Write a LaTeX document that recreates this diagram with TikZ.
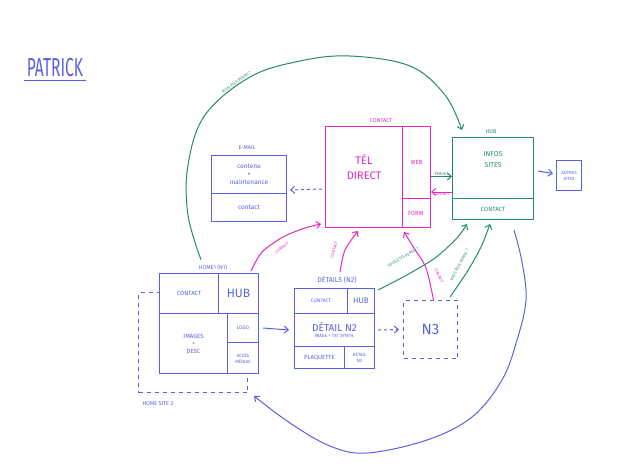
\documentclass[tikz,border=0pt]{standalone}
\usepackage{fontspec}
\setmainfont{Fira Sans}
\usetikzlibrary{positioning,arrows.meta}
\definecolor{Ink}{RGB}{88, 98, 222}
\definecolor{Rose}{RGB}{226, 40, 192}
\definecolor{Teal}{RGB}{38, 138, 108}

\begin{document}
\begin{tikzpicture}[x=1pt,y=-1pt,line width=1pt,
  cell/.style={draw,inner sep=0pt,anchor=north west,align=center,font=\fontsize{6}{7.5}\selectfont},
  lbl/.style={inner sep=1pt,font=\fontsize{5.5}{6}\selectfont},
  tiny/.style={inner sep=0.5pt,font=\fontsize{4}{4.5}\selectfont},
  link/.style={-{Straight Barb[length=4pt,width=7pt]}},
  dashlink/.style={link,dash pattern=on 3pt off 3pt}]
        \useasboundingbox (0,0) rectangle (620,472);

        % title
        \node[Ink,inner sep=2pt,font=\fontsize{26}{26}\selectfont] (title) at (55,68) {\scalebox{0.6}[1]{PATRICK}};
        \draw[Ink,line width=1.3pt] ([yshift=-1pt]title.south west) -- ([yshift=-1pt]title.south east);

        % e-mail
        \node[lbl,Ink] (maillbl) at (247,148) {E-MAIL};
        \node[cell,Ink,minimum width=75,minimum height=38,font=\fontsize{6.5}{8}\selectfont] (mailcontent) at (211,155) {contenu\\+\\maintenance};
        \node[cell,Ink,minimum width=75,minimum height=28,font=\fontsize{6.5}{8}\selectfont] (mailcontact) at (211,193) {contact};

        % contact
        \node[lbl,Rose] (contactlbl) at (381,121) {CONTACT};
        \node[cell,Rose,minimum width=77,minimum height=101,font=\fontsize{11}{15}\selectfont] (tel) at (325,126) {TÉL\\DIRECT\\[6pt]};
        \node[cell,Rose,minimum width=28,minimum height=72] (web) at (402,126) {WEB};
        \node[cell,Rose,minimum width=28,minimum height=29] (form) at (402,198) {FORM.};

        % hub
        \node[lbl,Teal] (hublbl) at (491,132) {HUB};
        \node[cell,Teal,minimum width=81,minimum height=61,font=\fontsize{7}{11}\selectfont] (hubinfos) at (452,137) {INFOS\\SITES\\[6pt]};
        \node[cell,Teal,minimum width=81,minimum height=21] (hubcontact) at (452,198) {CONTACT};
        \node[cell,Ink,minimum width=25,minimum height=30,font=\fontsize{4.5}{6}\selectfont] (autres) at (556,160) {AUTRES\\SITES};

        % home
        \node[cell,Ink,dash pattern=on 4pt off 4pt,minimum width=109,minimum height=100] (home2) at (138,292) {};
        \node[lbl,Ink,anchor=north west] (home2lbl) at ([xshift=3pt,yshift=-7pt]home2.south west) {HOME SITE 2};
        \node[lbl,Ink] (home1lbl) at (213,268) {HOME1 (N1)};
        \node[cell,Ink,fill=white,minimum width=59,minimum height=40] (h1contact) at (159,273) {CONTACT};
        \node[cell,Ink,fill=white,minimum width=40,minimum height=40,font=\fontsize{12}{12}\selectfont] (h1hub) at (218,273) {HUB};
        \node[cell,Ink,fill=white,minimum width=68,minimum height=60] (h1images) at (159,313) {IMAGES\\+\\DESC};
        \node[cell,Ink,fill=white,minimum width=31,minimum height=29,font=\fontsize{5}{6}\selectfont] (h1logo) at (227,313) {LOGO};
        \node[cell,Ink,fill=white,minimum width=31,minimum height=31,font=\fontsize{4.5}{6}\selectfont] (h1acces) at (227,342) {ACCÈS\\MÉDIAS};

        % details
        \node[lbl,Ink,font=\fontsize{7}{7}\selectfont] (d2lbl) at (337,280) {DÉTAILS (N2)};
        \node[cell,Ink,minimum width=53,minimum height=25,font=\fontsize{5}{6}\selectfont] (d2contact) at (294,288) {CONTACT};
        \node[cell,Ink,minimum width=27,minimum height=25,font=\fontsize{8}{8}\selectfont] (d2hub) at (347,288) {HUB};
        \node[cell,Ink,minimum width=80,minimum height=33] (d2main) at (294,313) {{\fontsize{10}{10}\selectfont DÉTAIL N2}\\[-1pt]{\fontsize{4.5}{5}\selectfont IMAGE + TXT SYNTH.}};
        \node[cell,Ink,minimum width=50,minimum height=22] (d2plaq) at (294,346) {PLAQUETTE};
        \node[cell,Ink,minimum width=30,minimum height=22,font=\fontsize{4.5}{5.5}\selectfont] (d2n3) at (344,346) {DÉTAIL\\N3};
        \node[cell,Ink,dash pattern=on 4pt off 4pt,minimum width=54,minimum height=58,font=\fontsize{15}{15}\selectfont] (n3) at (403,300) {N3};

        % straight links
        \draw[Ink,dashlink] ([xshift=-3pt,yshift=-12pt]tel.west) -- ([xshift=3pt,yshift=4pt]mailcontent.south east);
        \draw[Teal,link] ([yshift=-14pt]web.east) -- ([yshift=-14pt]web.east -| hubinfos.west) node[midway,above,tiny] {PERDU?};
        \draw[Rose,link] ([yshift=-24pt]hubinfos.west) -- ([yshift=-24pt]hubinfos.west -| web.east) node[midway,below,tiny] {CONTACT};
        \draw[Ink,link] ([xshift=4pt,yshift=-3pt]hubinfos.east) -- ([xshift=-3pt,yshift=2pt]autres.west);
        \draw[Ink,link] ([xshift=4pt]h1logo.east) -- ([xshift=-5pt]d2main.west);
        \draw[Ink,dashlink] ([xshift=3pt]d2main.east) -- ([xshift=-4pt]n3.west);

        % curved links
        \draw[Teal,link] plot[smooth,tension=0.6] coordinates {([xshift=-12pt,yshift=4pt]home1lbl.north) (188,215) (188,165) (205,115) (250,77) (300,61) (350,56) (410,66) (445,95) ([xshift=10pt,yshift=7pt]hubinfos.north west)};
        \node[tiny,Teal,rotate=36] (lost1) at (236,82) {VOUS ÊTES PERDU ?};
        \draw[Ink,link] plot[smooth,tension=0.6] coordinates {([xshift=-20pt,yshift=-10pt]hubcontact.south east) (522,262) (526,300) (517,340) (502,380) (472,417) (427,440) (367,453) (330,446) (290,423) ([xshift=6pt,yshift=-3pt]home2.south east)};
        \draw[Rose,link] plot[smooth] coordinates {([xshift=-8pt,yshift=2pt]h1hub.north east) (262,252) (283,237) (305,228) ([xshift=-4pt,yshift=4pt]tel.south west)};
        \node[tiny,Rose,rotate=38] (c1) at (282,248) {CONTACT};
        \draw[Rose,link] plot[smooth] coordinates {([xshift=3pt,yshift=3pt]d2lbl.north) (345,250) ([xshift=-6pt,yshift=-3pt]tel.south)};
        \node[tiny,Rose,rotate=72] (c2) at (334,250) {CONTACT};
        \draw[Rose,link] plot[smooth] coordinates {([xshift=3pt]n3.north) (426,268) (414,248) ([xshift=2pt,yshift=-4pt]form.south west)};
        \node[tiny,Rose,rotate=-65] (c3) at (439,276) {CONTACT};
        \draw[Teal,link] plot[smooth] coordinates {([xshift=3pt,yshift=-2pt]d2hub.north east) (405,276) (435,258) (457,238) ([xshift=15pt,yshift=-4pt]hubcontact.south west)};
        \node[tiny,Teal,rotate=30] (lost2) at (403,257) {VOUS ÊTES PERDU ?};
        \draw[Teal,link] plot[smooth] coordinates {([xshift=-8pt,yshift=3pt]n3.north east) (467,272) (481,247) ([xshift=38pt,yshift=-4pt]hubcontact.south west)};
        \node[tiny,Teal,rotate=62] (lost3) at (459,265) {VOUS ÊTES PERDU ?};
      \end{tikzpicture}
\end{document}
